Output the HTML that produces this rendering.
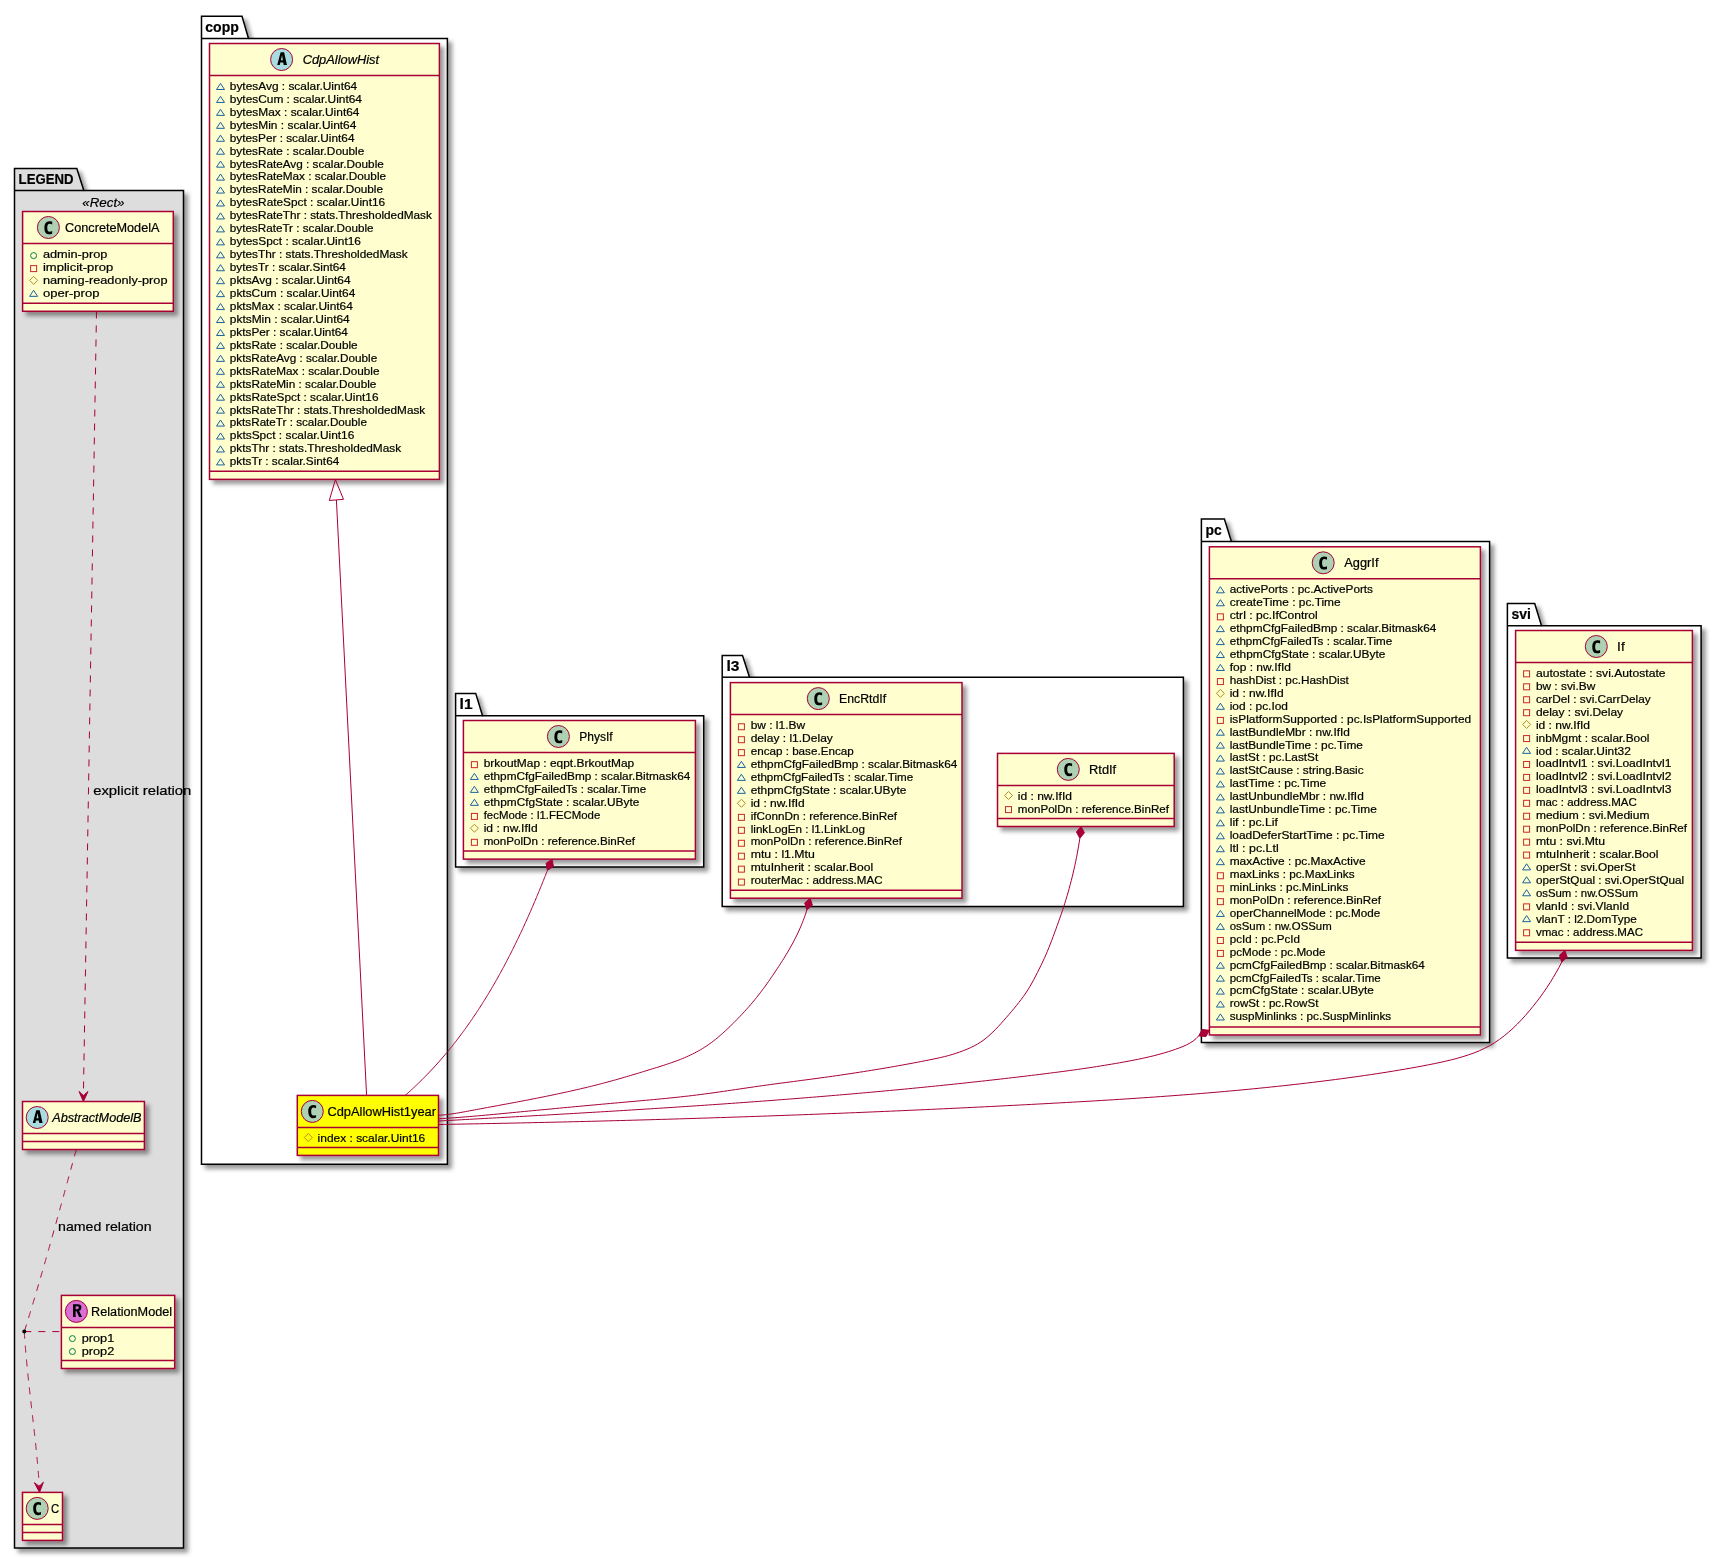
<!DOCTYPE html><html><head><meta charset="utf-8"><style>html,body{margin:0;padding:0;background:#fff;}svg{display:block;will-change:transform;} text{font-family:"Liberation Sans",sans-serif;stroke:#000;stroke-width:0.2px;}</style></head><body><svg width="1722" height="1559" viewBox="0 0 1722 1559" font-family="Liberation Sans, sans-serif">
<defs><filter id="sh" x="-10%" y="-10%" width="130%" height="130%" filterUnits="objectBoundingBox"><feGaussianBlur in="SourceAlpha" stdDeviation="2"/><feColorMatrix type="matrix" values="0 0 0 0 0  0 0 0 0 0  0 0 0 0 0  0 0 0 .4 0"/><feOffset dx="4" dy="4" result="s"/><feMerge><feMergeNode in="s"/><feMergeNode in="SourceGraphic"/></feMerge></filter></defs>
<rect x="0" y="0" width="1722" height="1559" fill="#FFFFFF"/>
<polygon points="14.50,168.50 76.80,168.50 83.80,190.50 183.50,190.50 183.50,1548.00 14.50,1548.00 14.50,168.50" fill="#DDDDDD" stroke="#000000" stroke-width="1.5" filter="url(#sh)"/>
<line x1="14.50" y1="190.50" x2="83.80" y2="190.50" stroke="#000000" stroke-width="1.5"/>
<text x="18.60" y="184.40" font-size="14" textLength="54.80" lengthAdjust="spacingAndGlyphs" font-weight="bold">LEGEND</text>
<text x="82.30" y="206.50" font-size="12.5" textLength="42.20" lengthAdjust="spacingAndGlyphs" font-style="italic">«Rect»</text>
<polygon points="201.50,16.30 242.00,16.30 248.50,38.50 447.40,38.50 447.40,1164.30 201.50,1164.30 201.50,16.30" fill="#FFFFFF" stroke="#000000" stroke-width="1.5" filter="url(#sh)"/>
<line x1="201.50" y1="38.50" x2="248.50" y2="38.50" stroke="#000000" stroke-width="1.5"/>
<text x="205.30" y="31.80" font-size="14" textLength="33.60" lengthAdjust="spacingAndGlyphs" font-weight="bold">copp</text>
<polygon points="455.60,693.40 475.70,693.40 482.50,715.70 703.70,715.70 703.70,867.00 455.60,867.00 455.60,693.40" fill="#FFFFFF" stroke="#000000" stroke-width="1.5" filter="url(#sh)"/>
<line x1="455.60" y1="715.70" x2="482.50" y2="715.70" stroke="#000000" stroke-width="1.5"/>
<text x="459.60" y="709.00" font-size="14" textLength="13.00" lengthAdjust="spacingAndGlyphs" font-weight="bold">l1</text>
<polygon points="722.20,655.40 742.50,655.40 749.50,677.20 1183.40,677.20 1183.40,906.40 722.20,906.40 722.20,655.40" fill="#FFFFFF" stroke="#000000" stroke-width="1.5" filter="url(#sh)"/>
<line x1="722.20" y1="677.20" x2="749.50" y2="677.20" stroke="#000000" stroke-width="1.5"/>
<text x="726.50" y="670.90" font-size="14" textLength="13.00" lengthAdjust="spacingAndGlyphs" font-weight="bold">l3</text>
<polygon points="1201.40,519.00 1224.40,519.00 1231.40,541.50 1489.60,541.50 1489.60,1042.50 1201.40,1042.50 1201.40,519.00" fill="#FFFFFF" stroke="#000000" stroke-width="1.5" filter="url(#sh)"/>
<line x1="1201.40" y1="541.50" x2="1231.40" y2="541.50" stroke="#000000" stroke-width="1.5"/>
<text x="1205.60" y="535.30" font-size="14" textLength="16.20" lengthAdjust="spacingAndGlyphs" font-weight="bold">pc</text>
<polygon points="1507.40,603.60 1534.70,603.60 1541.50,625.80 1701.10,625.80 1701.10,958.10 1507.40,958.10 1507.40,603.60" fill="#FFFFFF" stroke="#000000" stroke-width="1.5" filter="url(#sh)"/>
<line x1="1507.40" y1="625.80" x2="1541.50" y2="625.80" stroke="#000000" stroke-width="1.5"/>
<text x="1511.60" y="618.90" font-size="14" textLength="19.40" lengthAdjust="spacingAndGlyphs" font-weight="bold">svi</text>
<rect x="22.60" y="211.50" width="150.70" height="99.78" fill="#FEFECE" stroke="#A80036" stroke-width="1.5" filter="url(#sh)"/>
<circle cx="48.40" cy="227.50" r="11" fill="#ADD1B2" stroke="#A80036" stroke-width="1"/>
<path transform="translate(48.40,227.50)" d="M3.8,6.2 Q2.5,6.75 0.6,6.75 Q-4.05,6.75 -4.05,0.2 Q-4.05,-6.35 0.9,-6.35 Q2.5,-6.35 3.8,-5.9 L3.8,-3.05 Q2.6,-3.85 1.1,-3.85 Q-1.15,-3.85 -1.15,0.2 Q-1.15,4.15 1.1,4.15 Q2.6,4.15 3.8,3.55 Z" fill="#000000"/>
<text x="65.10" y="232.10" font-size="12" textLength="94.40" lengthAdjust="spacingAndGlyphs">ConcreteModelA</text>
<line x1="22.60" y1="243.50" x2="173.30" y2="243.50" stroke="#A80036" stroke-width="1.5"/>
<circle cx="33.60" cy="255.60" r="3" fill="none" stroke="#038048" stroke-width="1"/>
<text x="42.90" y="257.85" font-size="11" textLength="64.50" lengthAdjust="spacingAndGlyphs">admin-prop</text>
<rect x="30.60" y="265.60" width="6" height="6" fill="none" stroke="#C82930" stroke-width="1"/>
<text x="42.90" y="270.80" font-size="11" textLength="70.30" lengthAdjust="spacingAndGlyphs">implicit-prop</text>
<polygon points="33.60,276.39 37.60,280.39 33.60,284.39 29.60,280.39" fill="none" stroke="#B38D22" stroke-width="1"/>
<text x="42.90" y="283.74" font-size="11" textLength="124.60" lengthAdjust="spacingAndGlyphs">naming-readonly-prop</text>
<polygon points="33.60,290.24 37.60,296.34 29.60,296.34" fill="none" stroke="#1963A0" stroke-width="1"/>
<text x="42.90" y="296.69" font-size="11" textLength="56.50" lengthAdjust="spacingAndGlyphs">oper-prop</text>
<line x1="22.60" y1="303.28" x2="173.30" y2="303.28" stroke="#A80036" stroke-width="1.5"/>
<rect x="22.50" y="1101.50" width="121.90" height="48.00" fill="#FEFECE" stroke="#A80036" stroke-width="1.5" filter="url(#sh)"/>
<circle cx="37.20" cy="1117.50" r="11" fill="#A9DCDF" stroke="#A80036" stroke-width="1"/>
<path transform="translate(37.20,1117.50)" d="M-4.4,5.5 L-1.8,5.5 L-1.3,3.0 L1.6,3.0 L2.1,5.5 L5.4,5.5 L2.5,-7.2 L-1.0,-7.2 Z M0.45,-4.3 L1.3,0.75 L-0.75,0.75 Z" fill="#000000" fill-rule="evenodd"/>
<text x="52.20" y="1122.10" font-size="12" textLength="89.30" lengthAdjust="spacingAndGlyphs" font-style="italic">AbstractModelB</text>
<line x1="22.50" y1="1133.50" x2="144.40" y2="1133.50" stroke="#A80036" stroke-width="1.5"/>
<line x1="22.50" y1="1141.50" x2="144.40" y2="1141.50" stroke="#A80036" stroke-width="1.5"/>
<rect x="61.40" y="1295.40" width="113.30" height="73.09" fill="#FEFECE" stroke="#A80036" stroke-width="1.5" filter="url(#sh)"/>
<circle cx="76.40" cy="1311.40" r="11" fill="#DA70D6" stroke="#A80036" stroke-width="1"/>
<path transform="translate(76.40,1311.40)" d="M-3.4,-7.2 L1.3,-7.2 Q5.0,-7.2 5.0,-3.9 Q5.0,-1.4 2.7,-0.6 L5.6,5.5 L2.7,5.5 L0.2,-0.1 L-0.8,-0.1 L-0.8,5.5 L-3.4,5.5 Z M-0.8,-5.1 L0.9,-5.1 Q2.4,-5.1 2.4,-3.65 Q2.4,-2.2 0.9,-2.2 L-0.8,-2.2 Z" fill="#000000" fill-rule="evenodd"/>
<text x="91.10" y="1316.00" font-size="12" textLength="81.00" lengthAdjust="spacingAndGlyphs">RelationModel</text>
<line x1="61.40" y1="1327.40" x2="174.70" y2="1327.40" stroke="#A80036" stroke-width="1.5"/>
<circle cx="72.40" cy="1338.60" r="3" fill="none" stroke="#038048" stroke-width="1"/>
<text x="81.70" y="1341.75" font-size="11" textLength="32.60" lengthAdjust="spacingAndGlyphs">prop1</text>
<circle cx="72.40" cy="1351.55" r="3" fill="none" stroke="#038048" stroke-width="1"/>
<text x="81.70" y="1354.70" font-size="11" textLength="32.60" lengthAdjust="spacingAndGlyphs">prop2</text>
<line x1="61.40" y1="1360.49" x2="174.70" y2="1360.49" stroke="#A80036" stroke-width="1.5"/>
<rect x="22.50" y="1492.40" width="40.00" height="48.00" fill="#FEFECE" stroke="#A80036" stroke-width="1.5" filter="url(#sh)"/>
<circle cx="37.20" cy="1508.40" r="11" fill="#ADD1B2" stroke="#A80036" stroke-width="1"/>
<path transform="translate(37.20,1508.40)" d="M3.8,6.2 Q2.5,6.75 0.6,6.75 Q-4.05,6.75 -4.05,0.2 Q-4.05,-6.35 0.9,-6.35 Q2.5,-6.35 3.8,-5.9 L3.8,-3.05 Q2.6,-3.85 1.1,-3.85 Q-1.15,-3.85 -1.15,0.2 Q-1.15,4.15 1.1,4.15 Q2.6,4.15 3.8,3.55 Z" fill="#000000"/>
<text x="50.90" y="1513.00" font-size="12" textLength="8.20" lengthAdjust="spacingAndGlyphs">C</text>
<line x1="22.50" y1="1524.40" x2="62.50" y2="1524.40" stroke="#A80036" stroke-width="1.5"/>
<line x1="22.50" y1="1532.40" x2="62.50" y2="1532.40" stroke="#A80036" stroke-width="1.5"/>
<rect x="209.50" y="43.50" width="229.90" height="435.87" fill="#FEFECE" stroke="#A80036" stroke-width="1.5" filter="url(#sh)"/>
<circle cx="281.60" cy="59.50" r="11" fill="#A9DCDF" stroke="#A80036" stroke-width="1"/>
<path transform="translate(281.60,59.50)" d="M-4.4,5.5 L-1.8,5.5 L-1.3,3.0 L1.6,3.0 L2.1,5.5 L5.4,5.5 L2.5,-7.2 L-1.0,-7.2 Z M0.45,-4.3 L1.3,0.75 L-0.75,0.75 Z" fill="#000000" fill-rule="evenodd"/>
<text x="302.70" y="64.10" font-size="12" textLength="76.40" lengthAdjust="spacingAndGlyphs" font-style="italic">CdpAllowHist</text>
<line x1="209.50" y1="75.50" x2="439.40" y2="75.50" stroke="#A80036" stroke-width="1.5"/>
<polygon points="220.50,83.40 224.50,89.50 216.50,89.50" fill="none" stroke="#1963A0" stroke-width="1"/>
<text x="229.80" y="89.85" font-size="11" textLength="127.37" lengthAdjust="spacingAndGlyphs">bytesAvg : scalar.Uint64</text>
<polygon points="220.50,96.35 224.50,102.45 216.50,102.45" fill="none" stroke="#1963A0" stroke-width="1"/>
<text x="229.80" y="102.80" font-size="11" textLength="132.15" lengthAdjust="spacingAndGlyphs">bytesCum : scalar.Uint64</text>
<polygon points="220.50,109.29 224.50,115.39 216.50,115.39" fill="none" stroke="#1963A0" stroke-width="1"/>
<text x="229.80" y="115.74" font-size="11" textLength="129.64" lengthAdjust="spacingAndGlyphs">bytesMax : scalar.Uint64</text>
<polygon points="220.50,122.24 224.50,128.34 216.50,128.34" fill="none" stroke="#1963A0" stroke-width="1"/>
<text x="229.80" y="128.69" font-size="11" textLength="126.55" lengthAdjust="spacingAndGlyphs">bytesMin : scalar.Uint64</text>
<polygon points="220.50,135.18 224.50,141.28 216.50,141.28" fill="none" stroke="#1963A0" stroke-width="1"/>
<text x="229.80" y="141.63" font-size="11" textLength="124.65" lengthAdjust="spacingAndGlyphs">bytesPer : scalar.Uint64</text>
<polygon points="220.50,148.13 224.50,154.23 216.50,154.23" fill="none" stroke="#1963A0" stroke-width="1"/>
<text x="229.80" y="154.58" font-size="11" textLength="134.49" lengthAdjust="spacingAndGlyphs">bytesRate : scalar.Double</text>
<polygon points="220.50,161.07 224.50,167.17 216.50,167.17" fill="none" stroke="#1963A0" stroke-width="1"/>
<text x="229.80" y="167.52" font-size="11" textLength="153.99" lengthAdjust="spacingAndGlyphs">bytesRateAvg : scalar.Double</text>
<polygon points="220.50,174.02 224.50,180.12 216.50,180.12" fill="none" stroke="#1963A0" stroke-width="1"/>
<text x="229.80" y="180.47" font-size="11" textLength="156.25" lengthAdjust="spacingAndGlyphs">bytesRateMax : scalar.Double</text>
<polygon points="220.50,186.97 224.50,193.07 216.50,193.07" fill="none" stroke="#1963A0" stroke-width="1"/>
<text x="229.80" y="193.42" font-size="11" textLength="153.17" lengthAdjust="spacingAndGlyphs">bytesRateMin : scalar.Double</text>
<polygon points="220.50,199.91 224.50,206.01 216.50,206.01" fill="none" stroke="#1963A0" stroke-width="1"/>
<text x="229.80" y="206.36" font-size="11" textLength="155.29" lengthAdjust="spacingAndGlyphs">bytesRateSpct : scalar.Uint16</text>
<polygon points="220.50,212.86 224.50,218.96 216.50,218.96" fill="none" stroke="#1963A0" stroke-width="1"/>
<text x="229.80" y="219.31" font-size="11" textLength="201.99" lengthAdjust="spacingAndGlyphs">bytesRateThr : stats.ThresholdedMask</text>
<polygon points="220.50,225.80 224.50,231.90 216.50,231.90" fill="none" stroke="#1963A0" stroke-width="1"/>
<text x="229.80" y="232.25" font-size="11" textLength="143.70" lengthAdjust="spacingAndGlyphs">bytesRateTr : scalar.Double</text>
<polygon points="220.50,238.75 224.50,244.85 216.50,244.85" fill="none" stroke="#1963A0" stroke-width="1"/>
<text x="229.80" y="245.20" font-size="11" textLength="131.16" lengthAdjust="spacingAndGlyphs">bytesSpct : scalar.Uint16</text>
<polygon points="220.50,251.70 224.50,257.80 216.50,257.80" fill="none" stroke="#1963A0" stroke-width="1"/>
<text x="229.80" y="258.15" font-size="11" textLength="177.85" lengthAdjust="spacingAndGlyphs">bytesThr : stats.ThresholdedMask</text>
<polygon points="220.50,264.64 224.50,270.74 216.50,270.74" fill="none" stroke="#1963A0" stroke-width="1"/>
<text x="229.80" y="271.09" font-size="11" textLength="116.06" lengthAdjust="spacingAndGlyphs">bytesTr : scalar.Sint64</text>
<polygon points="220.50,277.59 224.50,283.69 216.50,283.69" fill="none" stroke="#1963A0" stroke-width="1"/>
<text x="229.80" y="284.04" font-size="11" textLength="120.76" lengthAdjust="spacingAndGlyphs">pktsAvg : scalar.Uint64</text>
<polygon points="220.50,290.53 224.50,296.63 216.50,296.63" fill="none" stroke="#1963A0" stroke-width="1"/>
<text x="229.80" y="296.98" font-size="11" textLength="125.54" lengthAdjust="spacingAndGlyphs">pktsCum : scalar.Uint64</text>
<polygon points="220.50,303.48 224.50,309.58 216.50,309.58" fill="none" stroke="#1963A0" stroke-width="1"/>
<text x="229.80" y="309.93" font-size="11" textLength="123.03" lengthAdjust="spacingAndGlyphs">pktsMax : scalar.Uint64</text>
<polygon points="220.50,316.42 224.50,322.52 216.50,322.52" fill="none" stroke="#1963A0" stroke-width="1"/>
<text x="229.80" y="322.87" font-size="11" textLength="119.94" lengthAdjust="spacingAndGlyphs">pktsMin : scalar.Uint64</text>
<polygon points="220.50,329.37 224.50,335.47 216.50,335.47" fill="none" stroke="#1963A0" stroke-width="1"/>
<text x="229.80" y="335.82" font-size="11" textLength="118.04" lengthAdjust="spacingAndGlyphs">pktsPer : scalar.Uint64</text>
<polygon points="220.50,342.32 224.50,348.42 216.50,348.42" fill="none" stroke="#1963A0" stroke-width="1"/>
<text x="229.80" y="348.77" font-size="11" textLength="127.88" lengthAdjust="spacingAndGlyphs">pktsRate : scalar.Double</text>
<polygon points="220.50,355.26 224.50,361.36 216.50,361.36" fill="none" stroke="#1963A0" stroke-width="1"/>
<text x="229.80" y="361.71" font-size="11" textLength="147.38" lengthAdjust="spacingAndGlyphs">pktsRateAvg : scalar.Double</text>
<polygon points="220.50,368.21 224.50,374.31 216.50,374.31" fill="none" stroke="#1963A0" stroke-width="1"/>
<text x="229.80" y="374.66" font-size="11" textLength="149.64" lengthAdjust="spacingAndGlyphs">pktsRateMax : scalar.Double</text>
<polygon points="220.50,381.15 224.50,387.25 216.50,387.25" fill="none" stroke="#1963A0" stroke-width="1"/>
<text x="229.80" y="387.60" font-size="11" textLength="146.56" lengthAdjust="spacingAndGlyphs">pktsRateMin : scalar.Double</text>
<polygon points="220.50,394.10 224.50,400.20 216.50,400.20" fill="none" stroke="#1963A0" stroke-width="1"/>
<text x="229.80" y="400.55" font-size="11" textLength="148.68" lengthAdjust="spacingAndGlyphs">pktsRateSpct : scalar.Uint16</text>
<polygon points="220.50,407.04 224.50,413.14 216.50,413.14" fill="none" stroke="#1963A0" stroke-width="1"/>
<text x="229.80" y="413.50" font-size="11" textLength="195.38" lengthAdjust="spacingAndGlyphs">pktsRateThr : stats.ThresholdedMask</text>
<polygon points="220.50,419.99 224.50,426.09 216.50,426.09" fill="none" stroke="#1963A0" stroke-width="1"/>
<text x="229.80" y="426.44" font-size="11" textLength="137.09" lengthAdjust="spacingAndGlyphs">pktsRateTr : scalar.Double</text>
<polygon points="220.50,432.94 224.50,439.04 216.50,439.04" fill="none" stroke="#1963A0" stroke-width="1"/>
<text x="229.80" y="439.39" font-size="11" textLength="124.54" lengthAdjust="spacingAndGlyphs">pktsSpct : scalar.Uint16</text>
<polygon points="220.50,445.88 224.50,451.98 216.50,451.98" fill="none" stroke="#1963A0" stroke-width="1"/>
<text x="229.80" y="452.33" font-size="11" textLength="171.24" lengthAdjust="spacingAndGlyphs">pktsThr : stats.ThresholdedMask</text>
<polygon points="220.50,458.83 224.50,464.93 216.50,464.93" fill="none" stroke="#1963A0" stroke-width="1"/>
<text x="229.80" y="465.28" font-size="11" textLength="109.45" lengthAdjust="spacingAndGlyphs">pktsTr : scalar.Sint64</text>
<line x1="209.50" y1="471.37" x2="439.40" y2="471.37" stroke="#A80036" stroke-width="1.5"/>
<rect x="297.30" y="1095.40" width="141.20" height="60.00" fill="#FFFF00" stroke="#A80036" stroke-width="1.5" filter="url(#sh)"/>
<circle cx="312.30" cy="1111.40" r="11" fill="#ADD1B2" stroke="#A80036" stroke-width="1"/>
<path transform="translate(312.30,1111.40)" d="M3.8,6.2 Q2.5,6.75 0.6,6.75 Q-4.05,6.75 -4.05,0.2 Q-4.05,-6.35 0.9,-6.35 Q2.5,-6.35 3.8,-5.9 L3.8,-3.05 Q2.6,-3.85 1.1,-3.85 Q-1.15,-3.85 -1.15,0.2 Q-1.15,4.15 1.1,4.15 Q2.6,4.15 3.8,3.55 Z" fill="#000000"/>
<text x="327.40" y="1116.00" font-size="12" textLength="108.60" lengthAdjust="spacingAndGlyphs">CdpAllowHist1year</text>
<line x1="297.30" y1="1127.40" x2="438.50" y2="1127.40" stroke="#A80036" stroke-width="1.5"/>
<polygon points="308.30,1133.50 312.30,1137.50 308.30,1141.50 304.30,1137.50" fill="none" stroke="#B38D22" stroke-width="1"/>
<text x="317.60" y="1141.75" font-size="11" textLength="107.67" lengthAdjust="spacingAndGlyphs">index : scalar.Uint16</text>
<line x1="297.30" y1="1147.40" x2="438.50" y2="1147.40" stroke="#A80036" stroke-width="1.5"/>
<rect x="463.40" y="720.50" width="232.00" height="138.62" fill="#FEFECE" stroke="#A80036" stroke-width="1.5" filter="url(#sh)"/>
<circle cx="558.40" cy="736.50" r="11" fill="#ADD1B2" stroke="#A80036" stroke-width="1"/>
<path transform="translate(558.40,736.50)" d="M3.8,6.2 Q2.5,6.75 0.6,6.75 Q-4.05,6.75 -4.05,0.2 Q-4.05,-6.35 0.9,-6.35 Q2.5,-6.35 3.8,-5.9 L3.8,-3.05 Q2.6,-3.85 1.1,-3.85 Q-1.15,-3.85 -1.15,0.2 Q-1.15,4.15 1.1,4.15 Q2.6,4.15 3.8,3.55 Z" fill="#000000"/>
<text x="579.30" y="741.10" font-size="12" textLength="33.40" lengthAdjust="spacingAndGlyphs">PhysIf</text>
<line x1="463.40" y1="752.50" x2="695.40" y2="752.50" stroke="#A80036" stroke-width="1.5"/>
<rect x="471.40" y="761.65" width="6" height="6" fill="none" stroke="#C82930" stroke-width="1"/>
<text x="483.70" y="766.85" font-size="11" textLength="150.47" lengthAdjust="spacingAndGlyphs">brkoutMap : eqpt.BrkoutMap</text>
<polygon points="474.40,773.35 478.40,779.45 470.40,779.45" fill="none" stroke="#1963A0" stroke-width="1"/>
<text x="483.70" y="779.80" font-size="11" textLength="206.66" lengthAdjust="spacingAndGlyphs">ethpmCfgFailedBmp : scalar.Bitmask64</text>
<polygon points="474.40,786.29 478.40,792.39 470.40,792.39" fill="none" stroke="#1963A0" stroke-width="1"/>
<text x="483.70" y="792.74" font-size="11" textLength="162.49" lengthAdjust="spacingAndGlyphs">ethpmCfgFailedTs : scalar.Time</text>
<polygon points="474.40,799.24 478.40,805.34 470.40,805.34" fill="none" stroke="#1963A0" stroke-width="1"/>
<text x="483.70" y="805.69" font-size="11" textLength="155.63" lengthAdjust="spacingAndGlyphs">ethpmCfgState : scalar.UByte</text>
<rect x="471.40" y="813.43" width="6" height="6" fill="none" stroke="#C82930" stroke-width="1"/>
<text x="483.70" y="818.63" font-size="11" textLength="116.60" lengthAdjust="spacingAndGlyphs">fecMode : l1.FECMode</text>
<polygon points="474.40,824.23 478.40,828.23 474.40,832.23 470.40,828.23" fill="none" stroke="#B38D22" stroke-width="1"/>
<text x="483.70" y="831.58" font-size="11" textLength="54.11" lengthAdjust="spacingAndGlyphs">id : nw.IfId</text>
<rect x="471.40" y="839.32" width="6" height="6" fill="none" stroke="#C82930" stroke-width="1"/>
<text x="483.70" y="844.52" font-size="11" textLength="151.18" lengthAdjust="spacingAndGlyphs">monPolDn : reference.BinRef</text>
<line x1="463.40" y1="851.12" x2="695.40" y2="851.12" stroke="#A80036" stroke-width="1.5"/>
<rect x="730.40" y="682.60" width="231.60" height="215.60" fill="#FEFECE" stroke="#A80036" stroke-width="1.5" filter="url(#sh)"/>
<circle cx="818.30" cy="698.60" r="11" fill="#ADD1B2" stroke="#A80036" stroke-width="1"/>
<path transform="translate(818.30,698.60)" d="M3.8,6.2 Q2.5,6.75 0.6,6.75 Q-4.05,6.75 -4.05,0.2 Q-4.05,-6.35 0.9,-6.35 Q2.5,-6.35 3.8,-5.9 L3.8,-3.05 Q2.6,-3.85 1.1,-3.85 Q-1.15,-3.85 -1.15,0.2 Q-1.15,4.15 1.1,4.15 Q2.6,4.15 3.8,3.55 Z" fill="#000000"/>
<text x="839.00" y="703.20" font-size="12" textLength="47.20" lengthAdjust="spacingAndGlyphs">EncRtdIf</text>
<line x1="730.40" y1="714.60" x2="962.00" y2="714.60" stroke="#A80036" stroke-width="1.5"/>
<rect x="738.40" y="723.75" width="6" height="6" fill="none" stroke="#C82930" stroke-width="1"/>
<text x="750.70" y="728.95" font-size="11" textLength="54.33" lengthAdjust="spacingAndGlyphs">bw : l1.Bw</text>
<rect x="738.40" y="736.70" width="6" height="6" fill="none" stroke="#C82930" stroke-width="1"/>
<text x="750.70" y="741.90" font-size="11" textLength="82.16" lengthAdjust="spacingAndGlyphs">delay : l1.Delay</text>
<rect x="738.40" y="749.64" width="6" height="6" fill="none" stroke="#C82930" stroke-width="1"/>
<text x="750.70" y="754.84" font-size="11" textLength="103.00" lengthAdjust="spacingAndGlyphs">encap : base.Encap</text>
<polygon points="741.40,761.34 745.40,767.44 737.40,767.44" fill="none" stroke="#1963A0" stroke-width="1"/>
<text x="750.70" y="767.79" font-size="11" textLength="206.66" lengthAdjust="spacingAndGlyphs">ethpmCfgFailedBmp : scalar.Bitmask64</text>
<polygon points="741.40,774.28 745.40,780.38 737.40,780.38" fill="none" stroke="#1963A0" stroke-width="1"/>
<text x="750.70" y="780.73" font-size="11" textLength="162.49" lengthAdjust="spacingAndGlyphs">ethpmCfgFailedTs : scalar.Time</text>
<polygon points="741.40,787.23 745.40,793.33 737.40,793.33" fill="none" stroke="#1963A0" stroke-width="1"/>
<text x="750.70" y="793.68" font-size="11" textLength="155.63" lengthAdjust="spacingAndGlyphs">ethpmCfgState : scalar.UByte</text>
<polygon points="741.40,799.27 745.40,803.27 741.40,807.27 737.40,803.27" fill="none" stroke="#B38D22" stroke-width="1"/>
<text x="750.70" y="806.62" font-size="11" textLength="54.11" lengthAdjust="spacingAndGlyphs">id : nw.IfId</text>
<rect x="738.40" y="814.37" width="6" height="6" fill="none" stroke="#C82930" stroke-width="1"/>
<text x="750.70" y="819.57" font-size="11" textLength="146.24" lengthAdjust="spacingAndGlyphs">ifConnDn : reference.BinRef</text>
<rect x="738.40" y="827.32" width="6" height="6" fill="none" stroke="#C82930" stroke-width="1"/>
<text x="750.70" y="832.52" font-size="11" textLength="114.31" lengthAdjust="spacingAndGlyphs">linkLogEn : l1.LinkLog</text>
<rect x="738.40" y="840.26" width="6" height="6" fill="none" stroke="#C82930" stroke-width="1"/>
<text x="750.70" y="845.46" font-size="11" textLength="151.18" lengthAdjust="spacingAndGlyphs">monPolDn : reference.BinRef</text>
<rect x="738.40" y="853.21" width="6" height="6" fill="none" stroke="#C82930" stroke-width="1"/>
<text x="750.70" y="858.41" font-size="11" textLength="64.15" lengthAdjust="spacingAndGlyphs">mtu : l1.Mtu</text>
<rect x="738.40" y="866.15" width="6" height="6" fill="none" stroke="#C82930" stroke-width="1"/>
<text x="750.70" y="871.35" font-size="11" textLength="122.44" lengthAdjust="spacingAndGlyphs">mtuInherit : scalar.Bool</text>
<rect x="738.40" y="879.10" width="6" height="6" fill="none" stroke="#C82930" stroke-width="1"/>
<text x="750.70" y="884.30" font-size="11" textLength="131.86" lengthAdjust="spacingAndGlyphs">routerMac : address.MAC</text>
<line x1="730.40" y1="890.20" x2="962.00" y2="890.20" stroke="#A80036" stroke-width="1.5"/>
<rect x="997.50" y="753.40" width="176.70" height="73.09" fill="#FEFECE" stroke="#A80036" stroke-width="1.5" filter="url(#sh)"/>
<circle cx="1068.30" cy="769.40" r="11" fill="#ADD1B2" stroke="#A80036" stroke-width="1"/>
<path transform="translate(1068.30,769.40)" d="M3.8,6.2 Q2.5,6.75 0.6,6.75 Q-4.05,6.75 -4.05,0.2 Q-4.05,-6.35 0.9,-6.35 Q2.5,-6.35 3.8,-5.9 L3.8,-3.05 Q2.6,-3.85 1.1,-3.85 Q-1.15,-3.85 -1.15,0.2 Q-1.15,4.15 1.1,4.15 Q2.6,4.15 3.8,3.55 Z" fill="#000000"/>
<text x="1089.00" y="774.00" font-size="12" textLength="27.20" lengthAdjust="spacingAndGlyphs">RtdIf</text>
<line x1="997.50" y1="785.40" x2="1174.20" y2="785.40" stroke="#A80036" stroke-width="1.5"/>
<polygon points="1008.50,791.50 1012.50,795.50 1008.50,799.50 1004.50,795.50" fill="none" stroke="#B38D22" stroke-width="1"/>
<text x="1017.80" y="799.75" font-size="11" textLength="54.11" lengthAdjust="spacingAndGlyphs">id : nw.IfId</text>
<rect x="1005.50" y="806.60" width="6" height="6" fill="none" stroke="#C82930" stroke-width="1"/>
<text x="1017.80" y="812.70" font-size="11" textLength="151.18" lengthAdjust="spacingAndGlyphs">monPolDn : reference.BinRef</text>
<line x1="997.50" y1="818.49" x2="1174.20" y2="818.49" stroke="#A80036" stroke-width="1.5"/>
<rect x="1209.40" y="546.80" width="271.00" height="488.16" fill="#FEFECE" stroke="#A80036" stroke-width="1.5" filter="url(#sh)"/>
<circle cx="1323.20" cy="562.80" r="11" fill="#ADD1B2" stroke="#A80036" stroke-width="1"/>
<path transform="translate(1323.20,562.80)" d="M3.8,6.2 Q2.5,6.75 0.6,6.75 Q-4.05,6.75 -4.05,0.2 Q-4.05,-6.35 0.9,-6.35 Q2.5,-6.35 3.8,-5.9 L3.8,-3.05 Q2.6,-3.85 1.1,-3.85 Q-1.15,-3.85 -1.15,0.2 Q-1.15,4.15 1.1,4.15 Q2.6,4.15 3.8,3.55 Z" fill="#000000"/>
<text x="1344.30" y="567.40" font-size="12" textLength="34.20" lengthAdjust="spacingAndGlyphs">AggrIf</text>
<line x1="1209.40" y1="578.80" x2="1480.40" y2="578.80" stroke="#A80036" stroke-width="1.5"/>
<polygon points="1220.40,586.70 1224.40,592.80 1216.40,592.80" fill="none" stroke="#1963A0" stroke-width="1"/>
<text x="1229.70" y="593.15" font-size="11" textLength="143.33" lengthAdjust="spacingAndGlyphs">activePorts : pc.ActivePorts</text>
<polygon points="1220.40,599.65 1224.40,605.75 1216.40,605.75" fill="none" stroke="#1963A0" stroke-width="1"/>
<text x="1229.70" y="606.10" font-size="11" textLength="111.00" lengthAdjust="spacingAndGlyphs">createTime : pc.Time</text>
<rect x="1217.40" y="613.84" width="6" height="6" fill="none" stroke="#C82930" stroke-width="1"/>
<text x="1229.70" y="619.04" font-size="11" textLength="88.09" lengthAdjust="spacingAndGlyphs">ctrl : pc.IfControl</text>
<polygon points="1220.40,625.54 1224.40,631.64 1216.40,631.64" fill="none" stroke="#1963A0" stroke-width="1"/>
<text x="1229.70" y="631.99" font-size="11" textLength="206.66" lengthAdjust="spacingAndGlyphs">ethpmCfgFailedBmp : scalar.Bitmask64</text>
<polygon points="1220.40,638.48 1224.40,644.58 1216.40,644.58" fill="none" stroke="#1963A0" stroke-width="1"/>
<text x="1229.70" y="644.93" font-size="11" textLength="162.49" lengthAdjust="spacingAndGlyphs">ethpmCfgFailedTs : scalar.Time</text>
<polygon points="1220.40,651.43 1224.40,657.53 1216.40,657.53" fill="none" stroke="#1963A0" stroke-width="1"/>
<text x="1229.70" y="657.88" font-size="11" textLength="155.63" lengthAdjust="spacingAndGlyphs">ethpmCfgState : scalar.UByte</text>
<polygon points="1220.40,664.37 1224.40,670.47 1216.40,670.47" fill="none" stroke="#1963A0" stroke-width="1"/>
<text x="1229.70" y="670.82" font-size="11" textLength="61.33" lengthAdjust="spacingAndGlyphs">fop : nw.IfId</text>
<rect x="1217.40" y="678.57" width="6" height="6" fill="none" stroke="#C82930" stroke-width="1"/>
<text x="1229.70" y="683.77" font-size="11" textLength="119.15" lengthAdjust="spacingAndGlyphs">hashDist : pc.HashDist</text>
<polygon points="1220.40,689.37 1224.40,693.37 1220.40,697.37 1216.40,693.37" fill="none" stroke="#B38D22" stroke-width="1"/>
<text x="1229.70" y="696.72" font-size="11" textLength="54.11" lengthAdjust="spacingAndGlyphs">id : nw.IfId</text>
<polygon points="1220.40,703.21 1224.40,709.31 1216.40,709.31" fill="none" stroke="#1963A0" stroke-width="1"/>
<text x="1229.70" y="709.66" font-size="11" textLength="58.33" lengthAdjust="spacingAndGlyphs">iod : pc.Iod</text>
<rect x="1217.40" y="717.41" width="6" height="6" fill="none" stroke="#C82930" stroke-width="1"/>
<text x="1229.70" y="722.61" font-size="11" textLength="241.40" lengthAdjust="spacingAndGlyphs">isPlatformSupported : pc.IsPlatformSupported</text>
<polygon points="1220.40,729.10 1224.40,735.20 1216.40,735.20" fill="none" stroke="#1963A0" stroke-width="1"/>
<text x="1229.70" y="735.55" font-size="11" textLength="120.23" lengthAdjust="spacingAndGlyphs">lastBundleMbr : nw.IfId</text>
<polygon points="1220.40,742.05 1224.40,748.15 1216.40,748.15" fill="none" stroke="#1963A0" stroke-width="1"/>
<text x="1229.70" y="748.50" font-size="11" textLength="133.22" lengthAdjust="spacingAndGlyphs">lastBundleTime : pc.Time</text>
<polygon points="1220.40,755.00 1224.40,761.10 1216.40,761.10" fill="none" stroke="#1963A0" stroke-width="1"/>
<text x="1229.70" y="761.45" font-size="11" textLength="88.59" lengthAdjust="spacingAndGlyphs">lastSt : pc.LastSt</text>
<polygon points="1220.40,767.94 1224.40,774.04 1216.40,774.04" fill="none" stroke="#1963A0" stroke-width="1"/>
<text x="1229.70" y="774.39" font-size="11" textLength="133.91" lengthAdjust="spacingAndGlyphs">lastStCause : string.Basic</text>
<polygon points="1220.40,780.89 1224.40,786.99 1216.40,786.99" fill="none" stroke="#1963A0" stroke-width="1"/>
<text x="1229.70" y="787.34" font-size="11" textLength="96.57" lengthAdjust="spacingAndGlyphs">lastTime : pc.Time</text>
<polygon points="1220.40,793.83 1224.40,799.93 1216.40,799.93" fill="none" stroke="#1963A0" stroke-width="1"/>
<text x="1229.70" y="800.28" font-size="11" textLength="134.07" lengthAdjust="spacingAndGlyphs">lastUnbundleMbr : nw.IfId</text>
<polygon points="1220.40,806.78 1224.40,812.88 1216.40,812.88" fill="none" stroke="#1963A0" stroke-width="1"/>
<text x="1229.70" y="813.23" font-size="11" textLength="147.06" lengthAdjust="spacingAndGlyphs">lastUnbundleTime : pc.Time</text>
<polygon points="1220.40,819.72 1224.40,825.82 1216.40,825.82" fill="none" stroke="#1963A0" stroke-width="1"/>
<text x="1229.70" y="826.17" font-size="11" textLength="48.11" lengthAdjust="spacingAndGlyphs">lif : pc.Lif</text>
<polygon points="1220.40,832.67 1224.40,838.77 1216.40,838.77" fill="none" stroke="#1963A0" stroke-width="1"/>
<text x="1229.70" y="839.12" font-size="11" textLength="154.89" lengthAdjust="spacingAndGlyphs">loadDeferStartTime : pc.Time</text>
<polygon points="1220.40,845.62 1224.40,851.72 1216.40,851.72" fill="none" stroke="#1963A0" stroke-width="1"/>
<text x="1229.70" y="852.07" font-size="11" textLength="48.95" lengthAdjust="spacingAndGlyphs">ltl : pc.Ltl</text>
<polygon points="1220.40,858.56 1224.40,864.66 1216.40,864.66" fill="none" stroke="#1963A0" stroke-width="1"/>
<text x="1229.70" y="865.01" font-size="11" textLength="135.88" lengthAdjust="spacingAndGlyphs">maxActive : pc.MaxActive</text>
<rect x="1217.40" y="872.76" width="6" height="6" fill="none" stroke="#C82930" stroke-width="1"/>
<text x="1229.70" y="877.96" font-size="11" textLength="124.84" lengthAdjust="spacingAndGlyphs">maxLinks : pc.MaxLinks</text>
<rect x="1217.40" y="885.70" width="6" height="6" fill="none" stroke="#C82930" stroke-width="1"/>
<text x="1229.70" y="890.90" font-size="11" textLength="118.67" lengthAdjust="spacingAndGlyphs">minLinks : pc.MinLinks</text>
<rect x="1217.40" y="898.65" width="6" height="6" fill="none" stroke="#C82930" stroke-width="1"/>
<text x="1229.70" y="903.85" font-size="11" textLength="151.18" lengthAdjust="spacingAndGlyphs">monPolDn : reference.BinRef</text>
<polygon points="1220.40,910.34 1224.40,916.44 1216.40,916.44" fill="none" stroke="#1963A0" stroke-width="1"/>
<text x="1229.70" y="916.79" font-size="11" textLength="150.57" lengthAdjust="spacingAndGlyphs">operChannelMode : pc.Mode</text>
<polygon points="1220.40,923.29 1224.40,929.39 1216.40,929.39" fill="none" stroke="#1963A0" stroke-width="1"/>
<text x="1229.70" y="929.74" font-size="11" textLength="102.02" lengthAdjust="spacingAndGlyphs">osSum : nw.OSSum</text>
<rect x="1217.40" y="937.49" width="6" height="6" fill="none" stroke="#C82930" stroke-width="1"/>
<text x="1229.70" y="942.69" font-size="11" textLength="70.24" lengthAdjust="spacingAndGlyphs">pcId : pc.PcId</text>
<rect x="1217.40" y="950.43" width="6" height="6" fill="none" stroke="#C82930" stroke-width="1"/>
<text x="1229.70" y="955.63" font-size="11" textLength="95.89" lengthAdjust="spacingAndGlyphs">pcMode : pc.Mode</text>
<polygon points="1220.40,962.13 1224.40,968.23 1216.40,968.23" fill="none" stroke="#1963A0" stroke-width="1"/>
<text x="1229.70" y="968.58" font-size="11" textLength="195.18" lengthAdjust="spacingAndGlyphs">pcmCfgFailedBmp : scalar.Bitmask64</text>
<polygon points="1220.40,975.07 1224.40,981.17 1216.40,981.17" fill="none" stroke="#1963A0" stroke-width="1"/>
<text x="1229.70" y="981.52" font-size="11" textLength="151.00" lengthAdjust="spacingAndGlyphs">pcmCfgFailedTs : scalar.Time</text>
<polygon points="1220.40,988.02 1224.40,994.12 1216.40,994.12" fill="none" stroke="#1963A0" stroke-width="1"/>
<text x="1229.70" y="994.47" font-size="11" textLength="144.14" lengthAdjust="spacingAndGlyphs">pcmCfgState : scalar.UByte</text>
<polygon points="1220.40,1000.97 1224.40,1007.07 1216.40,1007.07" fill="none" stroke="#1963A0" stroke-width="1"/>
<text x="1229.70" y="1007.42" font-size="11" textLength="88.72" lengthAdjust="spacingAndGlyphs">rowSt : pc.RowSt</text>
<polygon points="1220.40,1013.91 1224.40,1020.01 1216.40,1020.01" fill="none" stroke="#1963A0" stroke-width="1"/>
<text x="1229.70" y="1020.36" font-size="11" textLength="161.47" lengthAdjust="spacingAndGlyphs">suspMinlinks : pc.SuspMinlinks</text>
<line x1="1209.40" y1="1026.96" x2="1480.40" y2="1026.96" stroke="#A80036" stroke-width="1.5"/>
<rect x="1515.60" y="630.50" width="176.80" height="319.86" fill="#FEFECE" stroke="#A80036" stroke-width="1.5" filter="url(#sh)"/>
<circle cx="1596.30" cy="646.50" r="11" fill="#ADD1B2" stroke="#A80036" stroke-width="1"/>
<path transform="translate(1596.30,646.50)" d="M3.8,6.2 Q2.5,6.75 0.6,6.75 Q-4.05,6.75 -4.05,0.2 Q-4.05,-6.35 0.9,-6.35 Q2.5,-6.35 3.8,-5.9 L3.8,-3.05 Q2.6,-3.85 1.1,-3.85 Q-1.15,-3.85 -1.15,0.2 Q-1.15,4.15 1.1,4.15 Q2.6,4.15 3.8,3.55 Z" fill="#000000"/>
<text x="1617.10" y="651.10" font-size="12" textLength="7.60" lengthAdjust="spacingAndGlyphs">If</text>
<line x1="1515.60" y1="662.50" x2="1692.40" y2="662.50" stroke="#A80036" stroke-width="1.5"/>
<rect x="1523.60" y="670.85" width="6" height="6" fill="none" stroke="#C82930" stroke-width="1"/>
<text x="1535.90" y="676.85" font-size="11" textLength="129.70" lengthAdjust="spacingAndGlyphs">autostate : svi.Autostate</text>
<rect x="1523.60" y="683.80" width="6" height="6" fill="none" stroke="#C82930" stroke-width="1"/>
<text x="1535.90" y="689.80" font-size="11" textLength="59.35" lengthAdjust="spacingAndGlyphs">bw : svi.Bw</text>
<rect x="1523.60" y="696.74" width="6" height="6" fill="none" stroke="#C82930" stroke-width="1"/>
<text x="1535.90" y="702.74" font-size="11" textLength="114.76" lengthAdjust="spacingAndGlyphs">carDel : svi.CarrDelay</text>
<rect x="1523.60" y="709.69" width="6" height="6" fill="none" stroke="#C82930" stroke-width="1"/>
<text x="1535.90" y="715.69" font-size="11" textLength="87.18" lengthAdjust="spacingAndGlyphs">delay : svi.Delay</text>
<polygon points="1526.60,720.48 1530.60,724.48 1526.60,728.48 1522.60,724.48" fill="none" stroke="#B38D22" stroke-width="1"/>
<text x="1535.90" y="728.63" font-size="11" textLength="54.11" lengthAdjust="spacingAndGlyphs">id : nw.IfId</text>
<rect x="1523.60" y="735.58" width="6" height="6" fill="none" stroke="#C82930" stroke-width="1"/>
<text x="1535.90" y="741.58" font-size="11" textLength="113.50" lengthAdjust="spacingAndGlyphs">inbMgmt : scalar.Bool</text>
<polygon points="1526.60,747.27 1530.60,753.37 1522.60,753.37" fill="none" stroke="#1963A0" stroke-width="1"/>
<text x="1535.90" y="754.52" font-size="11" textLength="94.92" lengthAdjust="spacingAndGlyphs">iod : scalar.Uint32</text>
<rect x="1523.60" y="761.47" width="6" height="6" fill="none" stroke="#C82930" stroke-width="1"/>
<text x="1535.90" y="767.47" font-size="11" textLength="135.49" lengthAdjust="spacingAndGlyphs">loadIntvl1 : svi.LoadIntvl1</text>
<rect x="1523.60" y="774.42" width="6" height="6" fill="none" stroke="#C82930" stroke-width="1"/>
<text x="1535.90" y="780.42" font-size="11" textLength="135.49" lengthAdjust="spacingAndGlyphs">loadIntvl2 : svi.LoadIntvl2</text>
<rect x="1523.60" y="787.36" width="6" height="6" fill="none" stroke="#C82930" stroke-width="1"/>
<text x="1535.90" y="793.36" font-size="11" textLength="135.49" lengthAdjust="spacingAndGlyphs">loadIntvl3 : svi.LoadIntvl3</text>
<rect x="1523.60" y="800.31" width="6" height="6" fill="none" stroke="#C82930" stroke-width="1"/>
<text x="1535.90" y="806.31" font-size="11" textLength="100.89" lengthAdjust="spacingAndGlyphs">mac : address.MAC</text>
<rect x="1523.60" y="813.25" width="6" height="6" fill="none" stroke="#C82930" stroke-width="1"/>
<text x="1535.90" y="819.25" font-size="11" textLength="113.59" lengthAdjust="spacingAndGlyphs">medium : svi.Medium</text>
<rect x="1523.60" y="826.20" width="6" height="6" fill="none" stroke="#C82930" stroke-width="1"/>
<text x="1535.90" y="832.20" font-size="11" textLength="151.18" lengthAdjust="spacingAndGlyphs">monPolDn : reference.BinRef</text>
<rect x="1523.60" y="839.15" width="6" height="6" fill="none" stroke="#C82930" stroke-width="1"/>
<text x="1535.90" y="845.15" font-size="11" textLength="69.16" lengthAdjust="spacingAndGlyphs">mtu : svi.Mtu</text>
<rect x="1523.60" y="852.09" width="6" height="6" fill="none" stroke="#C82930" stroke-width="1"/>
<text x="1535.90" y="858.09" font-size="11" textLength="122.44" lengthAdjust="spacingAndGlyphs">mtuInherit : scalar.Bool</text>
<polygon points="1526.60,863.79 1530.60,869.89 1522.60,869.89" fill="none" stroke="#1963A0" stroke-width="1"/>
<text x="1535.90" y="871.04" font-size="11" textLength="99.55" lengthAdjust="spacingAndGlyphs">operSt : svi.OperSt</text>
<polygon points="1526.60,876.73 1530.60,882.83 1522.60,882.83" fill="none" stroke="#1963A0" stroke-width="1"/>
<text x="1535.90" y="883.98" font-size="11" textLength="148.22" lengthAdjust="spacingAndGlyphs">operStQual : svi.OperStQual</text>
<polygon points="1526.60,889.68 1530.60,895.78 1522.60,895.78" fill="none" stroke="#1963A0" stroke-width="1"/>
<text x="1535.90" y="896.93" font-size="11" textLength="102.02" lengthAdjust="spacingAndGlyphs">osSum : nw.OSSum</text>
<rect x="1523.60" y="903.87" width="6" height="6" fill="none" stroke="#C82930" stroke-width="1"/>
<text x="1535.90" y="909.87" font-size="11" textLength="93.33" lengthAdjust="spacingAndGlyphs">vlanId : svi.VlanId</text>
<polygon points="1526.60,915.57 1530.60,921.67 1522.60,921.67" fill="none" stroke="#1963A0" stroke-width="1"/>
<text x="1535.90" y="922.82" font-size="11" textLength="100.90" lengthAdjust="spacingAndGlyphs">vlanT : l2.DomType</text>
<rect x="1523.60" y="929.77" width="6" height="6" fill="none" stroke="#C82930" stroke-width="1"/>
<text x="1535.90" y="935.77" font-size="11" textLength="107.12" lengthAdjust="spacingAndGlyphs">vmac : address.MAC</text>
<line x1="1515.60" y1="942.36" x2="1692.40" y2="942.36" stroke="#A80036" stroke-width="1.5"/>
<line x1="366.6" y1="1095.4" x2="336.4" y2="500.0" fill="none" stroke="#A80036" stroke-width="1"/>
<polygon points="335.4,479.6 343.5,499.3 329.3,500.5" fill="none" stroke="#A80036" stroke-width="1"/>
<polygon points="552.10,859.30 546.08,863.27 547.43,870.35 553.45,866.38" fill="#A80036" stroke="#A80036" stroke-width="1"/>
<path d="M547.43,870.35 L546.94,871.60 L546.45,872.84 L545.96,874.09 L545.47,875.34 L544.97,876.58 L544.48,877.83 L543.98,879.07 L543.48,880.32 L542.98,881.56 L542.48,882.81 L541.98,884.05 L541.47,885.30 L540.97,886.55 L540.46,887.79 L539.95,889.03 L539.44,890.28 L538.92,891.52 L538.41,892.77 L537.89,894.01 L537.37,895.26 L536.85,896.50 L536.33,897.74 L535.81,898.98 L535.28,900.23 L534.76,901.47 L534.23,902.71 L533.70,903.95 L533.17,905.19 L532.63,906.43 L532.10,907.67 L531.56,908.91 L531.02,910.15 L530.48,911.39 L529.93,912.63 L529.39,913.86 L528.84,915.10 L528.29,916.34 L527.74,917.57 L527.19,918.81 L526.64,920.04 L526.08,921.27 L525.52,922.51 L524.96,923.74 L524.40,924.97 L523.83,926.20 L523.27,927.43 L522.70,928.66 L522.13,929.89 L521.55,931.11 L520.98,932.34 L520.40,933.57 L519.82,934.79 L519.24,936.02 L518.66,937.24 L518.07,938.46 L517.48,939.68 L516.89,940.90 L516.30,942.12 L515.71,943.34 L515.11,944.56 L514.51,945.77 L513.91,946.99 L513.31,948.20 L512.70,949.42 L512.10,950.63 L511.49,951.84 L510.88,953.05 L510.26,954.26 L509.64,955.46 L509.03,956.67 L508.40,957.88 L507.78,959.08 L507.15,960.28 L506.53,961.48 L505.90,962.68 L505.26,963.88 L504.63,965.08 L503.99,966.27 L503.35,967.47 L502.71,968.66 L502.06,969.85 L501.41,971.04 L500.76,972.23 L500.11,973.42 L499.45,974.61 L498.80,975.79 L498.14,976.97 L497.47,978.15 L496.81,979.33 L496.14,980.51 L495.47,981.69 L494.80,982.86 L494.12,984.04 L493.44,985.21 L492.76,986.38 L492.08,987.55 L491.39,988.71 L490.70,989.88 L490.01,991.04 L489.32,992.20 L488.62,993.36 L487.92,994.52 L487.22,995.68 L486.51,996.83 L485.81,997.98 L485.09,999.13 L484.38,1000.28 L483.66,1001.43 L482.95,1002.57 L482.22,1003.72 L481.50,1004.86 L480.77,1006.00 L480.04,1007.13 L479.31,1008.27 L478.57,1009.40 L477.83,1010.53 L477.09,1011.66 L476.35,1012.79 L475.60,1013.91 L474.85,1015.04 L474.09,1016.16 L473.34,1017.27 L472.58,1018.39 L471.82,1019.50 L471.05,1020.61 L470.28,1021.72 L469.51,1022.83 L468.73,1023.94 L467.96,1025.04 L467.18,1026.14 L466.39,1027.24 L465.61,1028.33 L464.82,1029.42 L464.02,1030.52 L463.23,1031.60 L462.43,1032.69 L461.62,1033.77 L460.82,1034.85 L460.01,1035.93 L459.20,1037.01 L458.38,1038.08 L457.56,1039.15 L456.74,1040.22 L455.92,1041.29 L455.09,1042.35 L454.26,1043.41 L453.42,1044.47 L452.58,1045.52 L451.74,1046.58 L450.90,1047.63 L450.05,1048.67 L449.20,1049.72 L448.34,1050.76 L447.49,1051.80 L446.63,1052.84 L445.76,1053.87 L444.89,1054.90 L444.02,1055.93 L443.15,1056.95 L442.27,1057.97 L441.39,1058.99 L440.50,1060.01 L439.61,1061.02 L438.72,1062.03 L437.82,1063.04 L436.92,1064.05 L436.02,1065.05 L435.12,1066.05 L434.21,1067.04 L433.29,1068.03 L432.38,1069.02 L431.45,1070.01 L430.53,1070.99 L429.60,1071.97 L428.67,1072.95 L427.74,1073.92 L426.80,1074.89 L425.86,1075.86 L424.91,1076.82 L423.96,1077.78 L423.01,1078.74 L422.05,1079.70 L421.09,1080.65 L420.12,1081.60 L419.16,1082.54 L418.18,1083.48 L417.21,1084.42 L416.23,1085.35 L415.24,1086.28 L414.26,1087.21 L413.27,1088.13 L412.27,1089.06 L411.27,1089.97 L410.27,1090.89 L409.26,1091.80 L408.25,1092.70 L407.24,1093.60 L406.22,1094.50 L405.20,1095.40" fill="none" stroke="#A80036" stroke-width="1"/>
<polygon points="810.20,898.30 804.69,902.96 806.87,909.83 812.38,905.17" fill="#A80036" stroke="#A80036" stroke-width="1"/>
<path d="M806.87,909.83 L806.20,912.01 L805.50,914.17 L804.76,916.32 L804.00,918.45 L803.20,920.57 L802.38,922.68 L801.53,924.78 L800.65,926.86 L799.74,928.93 L798.81,930.99 L797.86,933.03 L796.88,935.07 L795.88,937.09 L794.85,939.10 L793.81,941.11 L792.75,943.10 L791.67,945.08 L790.57,947.06 L789.45,949.02 L788.31,950.98 L787.16,952.92 L786.00,954.86 L784.82,956.79 L783.63,958.72 L782.43,960.63 L781.22,962.54 L779.99,964.45 L778.76,966.34 L777.52,968.24 L776.27,970.12 L775.02,972.00 L773.75,973.88 L772.49,975.75 L771.21,977.61 L769.93,979.47 L768.64,981.32 L767.34,983.16 L766.03,985.00 L764.71,986.82 L763.37,988.64 L762.03,990.45 L760.67,992.25 L759.30,994.04 L757.91,995.81 L756.51,997.58 L755.09,999.33 L753.66,1001.07 L752.21,1002.80 L750.75,1004.52 L749.27,1006.22 L747.77,1007.92 L746.27,1009.60 L744.75,1011.27 L743.21,1012.94 L741.67,1014.59 L740.11,1016.23 L738.54,1017.87 L736.96,1019.49 L735.37,1021.11 L733.77,1022.72 L732.16,1024.32 L730.54,1025.91 L728.91,1027.49 L727.27,1029.05 L725.62,1030.61 L723.95,1032.14 L722.26,1033.66 L720.56,1035.15 L718.85,1036.63 L717.12,1038.08 L715.37,1039.50 L713.60,1040.89 L711.80,1042.25 L709.99,1043.59 L708.16,1044.88 L706.30,1046.14 L704.42,1047.37 L702.52,1048.55 L700.60,1049.70 L698.65,1050.82 L696.69,1051.90 L694.70,1052.95 L692.70,1053.96 L690.68,1054.94 L688.64,1055.89 L686.58,1056.81 L684.51,1057.70 L682.43,1058.57 L680.33,1059.41 L678.22,1060.22 L676.10,1061.02 L673.97,1061.80 L671.83,1062.55 L669.69,1063.30 L667.53,1064.02 L665.38,1064.74 L663.21,1065.44 L661.05,1066.13 L658.88,1066.82 L656.71,1067.50 L654.54,1068.17 L652.37,1068.84 L650.20,1069.51 L648.03,1070.17 L645.87,1070.84 L643.71,1071.50 L641.54,1072.16 L639.38,1072.82 L637.22,1073.48 L635.06,1074.13 L632.90,1074.78 L630.74,1075.43 L628.58,1076.07 L626.42,1076.71 L624.26,1077.34 L622.10,1077.97 L619.94,1078.59 L617.77,1079.21 L615.61,1079.82 L613.44,1080.43 L611.27,1081.03 L609.10,1081.62 L606.93,1082.21 L604.75,1082.79 L602.57,1083.37 L600.39,1083.93 L598.21,1084.50 L596.02,1085.05 L593.84,1085.60 L591.65,1086.15 L589.46,1086.69 L587.26,1087.22 L585.07,1087.75 L582.87,1088.27 L580.68,1088.79 L578.48,1089.30 L576.28,1089.81 L574.07,1090.31 L571.87,1090.81 L569.66,1091.31 L567.46,1091.80 L565.25,1092.28 L563.04,1092.76 L560.83,1093.24 L558.62,1093.71 L556.41,1094.18 L554.19,1094.65 L551.98,1095.11 L549.76,1095.57 L547.54,1096.03 L545.33,1096.48 L543.11,1096.93 L540.89,1097.37 L538.67,1097.82 L536.45,1098.26 L534.23,1098.69 L532.00,1099.13 L529.78,1099.56 L527.56,1099.99 L525.33,1100.42 L523.11,1100.85 L520.89,1101.28 L518.66,1101.70 L516.44,1102.12 L514.21,1102.54 L511.99,1102.96 L509.77,1103.38 L507.54,1103.79 L505.32,1104.21 L503.09,1104.62 L500.87,1105.03 L498.64,1105.45 L496.42,1105.86 L494.20,1106.27 L491.97,1106.68 L489.75,1107.09 L487.53,1107.51 L485.31,1107.92 L483.09,1108.33 L480.87,1108.74 L478.65,1109.15 L476.43,1109.56 L474.21,1109.98 L471.99,1110.39 L469.78,1110.81 L467.56,1111.22 L465.35,1111.63 L463.13,1112.04 L460.91,1112.44 L458.69,1112.83 L456.47,1113.20 L454.25,1113.56 L452.02,1113.89 L449.78,1114.20 L447.54,1114.49 L445.29,1114.74 L443.04,1114.96 L440.77,1115.15 L438.50,1115.30" fill="none" stroke="#A80036" stroke-width="1"/>
<polygon points="1081.00,826.40 1076.44,831.99 1079.84,838.34 1084.40,832.76" fill="#A80036" stroke="#A80036" stroke-width="1"/>
<path d="M1079.84,838.34 L1079.24,842.22 L1078.59,846.09 L1077.92,849.95 L1077.21,853.81 L1076.46,857.67 L1075.68,861.51 L1074.87,865.35 L1074.02,869.19 L1073.14,873.01 L1072.22,876.83 L1071.27,880.64 L1070.28,884.44 L1069.26,888.23 L1068.20,892.01 L1067.11,895.78 L1065.98,899.54 L1064.81,903.29 L1063.61,907.03 L1062.38,910.75 L1061.11,914.47 L1059.82,918.17 L1058.51,921.87 L1057.18,925.56 L1055.83,929.25 L1054.48,932.93 L1053.12,936.61 L1051.74,940.29 L1050.33,943.95 L1048.89,947.60 L1047.41,951.23 L1045.87,954.84 L1044.29,958.43 L1042.63,961.98 L1040.92,965.52 L1039.18,969.04 L1037.42,972.55 L1035.64,976.06 L1033.81,979.54 L1031.94,982.99 L1029.99,986.39 L1027.95,989.74 L1025.80,993.01 L1023.57,996.22 L1021.25,999.38 L1018.87,1002.48 L1016.44,1005.54 L1013.96,1008.57 L1011.44,1011.57 L1008.89,1014.55 L1006.31,1017.53 L1003.70,1020.50 L1001.07,1023.46 L998.40,1026.38 L995.68,1029.25 L992.90,1032.04 L990.03,1034.73 L987.08,1037.29 L984.02,1039.72 L980.85,1041.97 L977.55,1044.04 L974.13,1045.92 L970.60,1047.63 L966.99,1049.21 L963.33,1050.67 L959.63,1052.05 L955.89,1053.33 L952.13,1054.51 L948.35,1055.60 L944.55,1056.60 L940.73,1057.50 L936.91,1058.35 L933.07,1059.15 L929.23,1059.92 L925.39,1060.68 L921.54,1061.44 L917.69,1062.18 L913.84,1062.91 L909.99,1063.63 L906.13,1064.35 L902.27,1065.05 L898.41,1065.74 L894.54,1066.43 L890.68,1067.10 L886.81,1067.77 L882.94,1068.43 L879.07,1069.08 L875.19,1069.72 L871.32,1070.35 L867.44,1070.98 L863.56,1071.59 L859.68,1072.20 L855.80,1072.80 L851.92,1073.40 L848.04,1073.98 L844.15,1074.56 L840.27,1075.13 L836.38,1075.69 L832.49,1076.25 L828.61,1076.79 L824.72,1077.34 L820.83,1077.87 L816.94,1078.40 L813.05,1078.92 L809.16,1079.44 L805.27,1079.95 L801.38,1080.46 L797.49,1080.97 L793.60,1081.48 L789.71,1081.99 L785.82,1082.50 L781.93,1083.01 L778.04,1083.53 L774.15,1084.05 L770.27,1084.58 L766.38,1085.11 L762.49,1085.65 L758.61,1086.20 L754.72,1086.76 L750.84,1087.33 L746.96,1087.90 L743.07,1088.47 L739.19,1089.05 L735.31,1089.62 L731.42,1090.20 L727.54,1090.77 L723.65,1091.33 L719.77,1091.89 L715.88,1092.45 L712.00,1092.99 L708.11,1093.52 L704.22,1094.04 L700.32,1094.55 L696.43,1095.04 L692.54,1095.51 L688.64,1095.97 L684.74,1096.42 L680.84,1096.85 L676.94,1097.27 L673.03,1097.68 L669.13,1098.08 L665.23,1098.47 L661.32,1098.85 L657.41,1099.23 L653.50,1099.60 L649.60,1099.96 L645.69,1100.32 L641.78,1100.67 L637.87,1101.02 L633.96,1101.37 L630.05,1101.71 L626.14,1102.06 L622.23,1102.40 L618.32,1102.75 L614.41,1103.10 L610.50,1103.45 L606.59,1103.80 L602.68,1104.15 L598.77,1104.51 L594.86,1104.86 L590.95,1105.22 L587.04,1105.58 L583.14,1105.94 L579.23,1106.30 L575.32,1106.66 L571.41,1107.02 L567.51,1107.39 L563.60,1107.75 L559.69,1108.12 L555.78,1108.49 L551.88,1108.86 L547.97,1109.23 L544.06,1109.60 L540.15,1109.97 L536.25,1110.34 L532.34,1110.72 L528.43,1111.09 L524.53,1111.46 L520.62,1111.84 L516.71,1112.22 L512.81,1112.59 L508.90,1112.97 L504.99,1113.34 L501.09,1113.71 L497.18,1114.08 L493.27,1114.45 L489.36,1114.81 L485.46,1115.17 L481.55,1115.52 L477.64,1115.87 L473.73,1116.20 L469.82,1116.53 L465.90,1116.85 L461.99,1117.17 L458.08,1117.47 L454.17,1117.76 L450.25,1118.04 L446.33,1118.30 L442.42,1118.56 L438.50,1118.80" fill="none" stroke="#A80036" stroke-width="1"/>
<polygon points="1209.40,1030.30 1202.23,1029.52 1198.75,1035.83 1205.92,1036.62" fill="#A80036" stroke="#A80036" stroke-width="1"/>
<path d="M1198.75,1035.83 L1196.05,1038.64 L1193.08,1041.05 L1189.87,1043.11 L1186.49,1044.90 L1182.97,1046.48 L1179.37,1047.90 L1175.73,1049.22 L1172.07,1050.47 L1168.39,1051.65 L1164.69,1052.77 L1160.97,1053.83 L1157.24,1054.84 L1153.50,1055.80 L1149.74,1056.70 L1145.98,1057.57 L1142.20,1058.40 L1138.42,1059.20 L1134.63,1059.96 L1130.83,1060.70 L1127.03,1061.42 L1123.23,1062.12 L1119.42,1062.80 L1115.62,1063.47 L1111.81,1064.12 L1108.00,1064.76 L1104.18,1065.39 L1100.37,1066.00 L1096.55,1066.60 L1092.73,1067.19 L1088.92,1067.77 L1085.09,1068.34 L1081.27,1068.90 L1077.45,1069.44 L1073.62,1069.98 L1069.80,1070.51 L1065.97,1071.03 L1062.14,1071.54 L1058.31,1072.04 L1054.48,1072.54 L1050.65,1073.03 L1046.82,1073.51 L1042.99,1073.99 L1039.15,1074.47 L1035.32,1074.94 L1031.49,1075.40 L1027.65,1075.87 L1023.82,1076.33 L1019.98,1076.78 L1016.15,1077.24 L1012.31,1077.69 L1008.48,1078.13 L1004.64,1078.58 L1000.80,1079.02 L996.97,1079.45 L993.13,1079.89 L989.29,1080.32 L985.45,1080.75 L981.61,1081.17 L977.77,1081.59 L973.94,1082.01 L970.10,1082.43 L966.26,1082.84 L962.42,1083.25 L958.58,1083.66 L954.74,1084.07 L950.89,1084.47 L947.05,1084.87 L943.21,1085.26 L939.37,1085.66 L935.53,1086.05 L931.68,1086.44 L927.84,1086.82 L924.00,1087.20 L920.16,1087.58 L916.31,1087.96 L912.47,1088.34 L908.62,1088.71 L904.78,1089.08 L900.93,1089.44 L897.09,1089.81 L893.24,1090.17 L889.40,1090.53 L885.55,1090.89 L881.71,1091.24 L877.86,1091.59 L874.01,1091.94 L870.17,1092.29 L866.32,1092.64 L862.47,1092.98 L858.63,1093.32 L854.78,1093.66 L850.93,1093.99 L847.08,1094.33 L843.23,1094.66 L839.39,1094.98 L835.54,1095.31 L831.69,1095.64 L827.84,1095.96 L823.99,1096.28 L820.14,1096.60 L816.29,1096.91 L812.44,1097.23 L808.59,1097.54 L804.74,1097.85 L800.89,1098.15 L797.04,1098.46 L793.19,1098.76 L789.34,1099.07 L785.48,1099.37 L781.63,1099.66 L777.78,1099.96 L773.93,1100.25 L770.08,1100.55 L766.22,1100.84 L762.37,1101.12 L758.52,1101.41 L754.67,1101.70 L750.81,1101.98 L746.96,1102.26 L743.11,1102.54 L739.25,1102.82 L735.40,1103.09 L731.55,1103.37 L727.69,1103.64 L723.84,1103.91 L719.99,1104.18 L716.13,1104.45 L712.28,1104.72 L708.42,1104.98 L704.57,1105.25 L700.72,1105.51 L696.86,1105.77 L693.01,1106.03 L689.15,1106.29 L685.30,1106.54 L681.44,1106.80 L677.59,1107.05 L673.73,1107.31 L669.88,1107.56 L666.02,1107.81 L662.16,1108.06 L658.31,1108.30 L654.45,1108.55 L650.60,1108.79 L646.74,1109.04 L642.89,1109.28 L639.03,1109.52 L635.17,1109.76 L631.32,1110.00 L627.46,1110.24 L623.61,1110.48 L619.75,1110.71 L615.89,1110.95 L612.04,1111.18 L608.18,1111.41 L604.32,1111.65 L600.47,1111.88 L596.61,1112.11 L592.75,1112.34 L588.90,1112.56 L585.04,1112.79 L581.18,1113.02 L577.33,1113.24 L573.47,1113.47 L569.61,1113.69 L565.76,1113.92 L561.90,1114.14 L558.04,1114.36 L554.19,1114.58 L550.33,1114.80 L546.47,1115.02 L542.62,1115.24 L538.76,1115.46 L534.90,1115.68 L531.05,1115.90 L527.19,1116.11 L523.33,1116.33 L519.48,1116.55 L515.62,1116.76 L511.76,1116.98 L507.91,1117.19 L504.05,1117.40 L500.20,1117.62 L496.34,1117.83 L492.48,1118.04 L488.63,1118.26 L484.77,1118.47 L480.91,1118.68 L477.06,1118.89 L473.20,1119.10 L469.35,1119.32 L465.49,1119.53 L461.63,1119.74 L457.78,1119.95 L453.92,1120.16 L450.07,1120.37 L446.21,1120.58 L442.36,1120.79 L438.50,1121.00" fill="none" stroke="#A80036" stroke-width="1"/>
<polygon points="1564.90,950.50 1559.47,955.25 1561.76,962.08 1567.19,957.34" fill="#A80036" stroke="#A80036" stroke-width="1"/>
<path d="M1561.76,962.08 L1559.04,967.31 L1556.19,972.45 L1553.24,977.51 L1550.17,982.49 L1546.98,987.40 L1543.68,992.23 L1540.27,996.99 L1536.74,1001.68 L1533.10,1006.31 L1529.35,1010.87 L1525.48,1015.36 L1521.49,1019.76 L1517.37,1024.03 L1513.12,1028.15 L1508.74,1032.09 L1504.21,1035.83 L1499.54,1039.35 L1494.71,1042.62 L1489.73,1045.61 L1484.60,1048.32 L1479.33,1050.76 L1473.94,1052.94 L1468.44,1054.89 L1462.86,1056.67 L1457.21,1058.29 L1451.52,1059.77 L1445.79,1061.15 L1440.03,1062.44 L1434.25,1063.65 L1428.46,1064.80 L1422.66,1065.91 L1416.86,1067.00 L1411.06,1068.05 L1405.26,1069.07 L1399.46,1070.06 L1393.66,1071.03 L1387.86,1071.97 L1382.06,1072.89 L1376.25,1073.78 L1370.45,1074.65 L1364.64,1075.50 L1358.83,1076.33 L1353.02,1077.15 L1347.21,1077.94 L1341.39,1078.72 L1335.58,1079.49 L1329.76,1080.24 L1323.94,1080.98 L1318.12,1081.70 L1312.29,1082.41 L1306.46,1083.10 L1300.64,1083.78 L1294.81,1084.44 L1288.98,1085.10 L1283.14,1085.74 L1277.31,1086.36 L1271.47,1086.98 L1265.63,1087.58 L1259.79,1088.17 L1253.95,1088.75 L1248.11,1089.32 L1242.27,1089.87 L1236.42,1090.42 L1230.58,1090.95 L1224.73,1091.48 L1218.88,1091.99 L1213.03,1092.49 L1207.18,1092.98 L1201.33,1093.47 L1195.47,1093.94 L1189.62,1094.41 L1183.76,1094.86 L1177.91,1095.31 L1172.05,1095.75 L1166.19,1096.18 L1160.33,1096.60 L1154.47,1097.02 L1148.61,1097.43 L1142.75,1097.83 L1136.89,1098.22 L1131.03,1098.61 L1125.16,1098.99 L1119.30,1099.37 L1113.44,1099.74 L1107.57,1100.10 L1101.71,1100.46 L1095.84,1100.81 L1089.98,1101.16 L1084.11,1101.50 L1078.24,1101.84 L1072.38,1102.17 L1066.51,1102.50 L1060.64,1102.83 L1054.77,1103.15 L1048.91,1103.47 L1043.04,1103.79 L1037.17,1104.10 L1031.30,1104.41 L1025.44,1104.72 L1019.57,1105.03 L1013.70,1105.33 L1007.83,1105.64 L1001.97,1105.93 L996.10,1106.23 L990.23,1106.53 L984.37,1106.82 L978.50,1107.11 L972.63,1107.39 L966.76,1107.68 L960.90,1107.96 L955.03,1108.24 L949.16,1108.52 L943.30,1108.79 L937.43,1109.07 L931.56,1109.34 L925.69,1109.61 L919.83,1109.87 L913.96,1110.14 L908.09,1110.40 L902.23,1110.66 L896.36,1110.91 L890.49,1111.17 L884.62,1111.42 L878.76,1111.67 L872.89,1111.92 L867.02,1112.16 L861.15,1112.41 L855.29,1112.65 L849.42,1112.89 L843.55,1113.12 L837.68,1113.36 L831.82,1113.59 L825.95,1113.82 L820.08,1114.05 L814.21,1114.27 L808.35,1114.50 L802.48,1114.72 L796.61,1114.94 L790.74,1115.15 L784.88,1115.37 L779.01,1115.58 L773.14,1115.79 L767.27,1116.00 L761.40,1116.20 L755.54,1116.41 L749.67,1116.61 L743.80,1116.81 L737.93,1117.01 L732.06,1117.20 L726.19,1117.40 L720.33,1117.59 L714.46,1117.78 L708.59,1117.97 L702.72,1118.15 L696.85,1118.33 L690.98,1118.52 L685.11,1118.70 L679.24,1118.87 L673.37,1119.05 L667.50,1119.22 L661.64,1119.39 L655.77,1119.56 L649.90,1119.73 L644.03,1119.89 L638.16,1120.06 L632.29,1120.22 L626.42,1120.38 L620.55,1120.54 L614.68,1120.69 L608.81,1120.85 L602.93,1121.00 L597.06,1121.15 L591.19,1121.30 L585.32,1121.44 L579.45,1121.59 L573.58,1121.73 L567.71,1121.87 L561.84,1122.01 L555.97,1122.14 L550.09,1122.28 L544.22,1122.41 L538.35,1122.54 L532.48,1122.67 L526.60,1122.80 L520.73,1122.93 L514.86,1123.05 L508.99,1123.17 L503.11,1123.29 L497.24,1123.41 L491.37,1123.53 L485.49,1123.64 L479.62,1123.76 L473.75,1123.87 L467.87,1123.98 L462.00,1124.09 L456.12,1124.19 L450.25,1124.30 L444.37,1124.40 L438.50,1124.50" fill="none" stroke="#A80036" stroke-width="1"/>
<path d="M96.5,311.5 L83.4,1095.5" fill="none" stroke="#A80036" stroke-width="1" stroke-dasharray="7,7"/>
<polygon points="83.40,1101.50 78.99,1091.46 83.45,1095.50 87.99,1091.54" fill="#A80036" stroke="#A80036" stroke-width="1"/>
<text x="93.20" y="794.70" font-size="13" textLength="98.20" lengthAdjust="spacingAndGlyphs">explicit relation</text>
<path d="M76.30,1149.50 L76.05,1150.42 L75.79,1151.33 L75.54,1152.25 L75.29,1153.17 L75.04,1154.09 L74.78,1155.00 L74.53,1155.92 L74.28,1156.84 L74.02,1157.76 L73.77,1158.67 L73.52,1159.59 L73.27,1160.51 L73.01,1161.43 L72.76,1162.34 L72.51,1163.26 L72.26,1164.18 L72.01,1165.10 L71.75,1166.01 L71.50,1166.93 L71.25,1167.85 L71.00,1168.77 L70.74,1169.68 L70.49,1170.60 L70.24,1171.52 L69.99,1172.44 L69.74,1173.35 L69.48,1174.27 L69.23,1175.19 L68.98,1176.11 L68.73,1177.02 L68.48,1177.94 L68.22,1178.86 L67.97,1179.78 L67.72,1180.70 L67.47,1181.61 L67.22,1182.53 L66.96,1183.45 L66.71,1184.37 L66.46,1185.28 L66.21,1186.20 L65.96,1187.12 L65.70,1188.04 L65.45,1188.95 L65.20,1189.87 L64.95,1190.79 L64.69,1191.71 L64.44,1192.63 L64.19,1193.54 L63.94,1194.46 L63.69,1195.38 L63.43,1196.30 L63.18,1197.21 L62.93,1198.13 L62.68,1199.05 L62.42,1199.97 L62.17,1200.88 L61.92,1201.80 L61.66,1202.72 L61.41,1203.64 L61.16,1204.56 L60.91,1205.47 L60.65,1206.39 L60.40,1207.31 L60.15,1208.23 L59.89,1209.14 L59.64,1210.06 L59.39,1210.98 L59.13,1211.90 L58.88,1212.81 L58.62,1213.73 L58.37,1214.65 L58.12,1215.56 L57.86,1216.48 L57.61,1217.40 L57.35,1218.32 L57.10,1219.23 L56.85,1220.15 L56.59,1221.07 L56.34,1221.99 L56.08,1222.90 L55.83,1223.82 L55.57,1224.74 L55.32,1225.65 L55.06,1226.57 L54.81,1227.49 L54.55,1228.40 L54.29,1229.32 L54.04,1230.24 L53.78,1231.15 L53.53,1232.07 L53.27,1232.99 L53.01,1233.91 L52.76,1234.82 L52.50,1235.74 L52.24,1236.65 L51.99,1237.57 L51.73,1238.49 L51.47,1239.40 L51.22,1240.32 L50.96,1241.24 L50.70,1242.15 L50.44,1243.07 L50.19,1243.99 L49.93,1244.90 L49.67,1245.82 L49.41,1246.73 L49.15,1247.65 L48.89,1248.57 L48.63,1249.48 L48.37,1250.40 L48.12,1251.31 L47.86,1252.23 L47.60,1253.15 L47.34,1254.06 L47.08,1254.98 L46.82,1255.89 L46.56,1256.81 L46.29,1257.72 L46.03,1258.64 L45.77,1259.55 L45.51,1260.47 L45.25,1261.38 L44.99,1262.30 L44.73,1263.21 L44.46,1264.13 L44.20,1265.04 L43.94,1265.96 L43.68,1266.87 L43.41,1267.79 L43.15,1268.70 L42.89,1269.62 L42.62,1270.53 L42.36,1271.45 L42.09,1272.36 L41.83,1273.27 L41.56,1274.19 L41.30,1275.10 L41.03,1276.02 L40.77,1276.93 L40.50,1277.84 L40.24,1278.76 L39.97,1279.67 L39.70,1280.59 L39.44,1281.50 L39.17,1282.41 L38.90,1283.33 L38.64,1284.24 L38.37,1285.15 L38.10,1286.07 L37.83,1286.98 L37.56,1287.89 L37.29,1288.80 L37.03,1289.72 L36.76,1290.63 L36.49,1291.54 L36.22,1292.46 L35.95,1293.37 L35.68,1294.28 L35.40,1295.19 L35.13,1296.10 L34.86,1297.02 L34.59,1297.93 L34.32,1298.84 L34.05,1299.75 L33.77,1300.66 L33.50,1301.58 L33.23,1302.49 L32.95,1303.40 L32.68,1304.31 L32.40,1305.22 L32.13,1306.13 L31.85,1307.04 L31.58,1307.95 L31.30,1308.87 L31.03,1309.78 L30.75,1310.69 L30.47,1311.60 L30.20,1312.51 L29.92,1313.42 L29.64,1314.33 L29.37,1315.24 L29.09,1316.15 L28.81,1317.06 L28.53,1317.97 L28.25,1318.88 L27.97,1319.79 L27.69,1320.70 L27.41,1321.61 L27.13,1322.51 L26.85,1323.42 L26.57,1324.33 L26.28,1325.24 L26.00,1326.15 L25.72,1327.06 L25.44,1327.97 L25.15,1328.88 L24.87,1329.78 L24.58,1330.69 L24.30,1331.60" fill="none" stroke="#A80036" stroke-width="1" stroke-dasharray="7,7"/>
<path d="M24.30,1331.60 L24.35,1332.38 L24.39,1333.15 L24.44,1333.93 L24.49,1334.71 L24.54,1335.49 L24.59,1336.26 L24.64,1337.04 L24.70,1337.82 L24.75,1338.59 L24.80,1339.37 L24.86,1340.15 L24.91,1340.92 L24.97,1341.70 L25.02,1342.48 L25.08,1343.25 L25.14,1344.03 L25.20,1344.81 L25.26,1345.58 L25.32,1346.36 L25.38,1347.13 L25.44,1347.91 L25.50,1348.69 L25.57,1349.46 L25.63,1350.24 L25.69,1351.02 L25.76,1351.79 L25.82,1352.57 L25.89,1353.34 L25.96,1354.12 L26.02,1354.90 L26.09,1355.67 L26.16,1356.45 L26.23,1357.22 L26.30,1358.00 L26.37,1358.77 L26.44,1359.55 L26.51,1360.33 L26.58,1361.10 L26.66,1361.88 L26.73,1362.65 L26.80,1363.43 L26.88,1364.20 L26.95,1364.98 L27.02,1365.76 L27.10,1366.53 L27.18,1367.31 L27.25,1368.08 L27.33,1368.86 L27.41,1369.63 L27.48,1370.41 L27.56,1371.18 L27.64,1371.96 L27.72,1372.73 L27.80,1373.51 L27.88,1374.29 L27.96,1375.06 L28.04,1375.84 L28.12,1376.61 L28.20,1377.39 L28.28,1378.16 L28.36,1378.94 L28.44,1379.71 L28.53,1380.49 L28.61,1381.26 L28.69,1382.04 L28.78,1382.81 L28.86,1383.59 L28.94,1384.36 L29.03,1385.14 L29.11,1385.91 L29.20,1386.69 L29.28,1387.46 L29.37,1388.24 L29.45,1389.01 L29.54,1389.79 L29.62,1390.56 L29.71,1391.34 L29.80,1392.11 L29.88,1392.89 L29.97,1393.66 L30.06,1394.44 L30.14,1395.21 L30.23,1395.99 L30.32,1396.76 L30.41,1397.54 L30.49,1398.31 L30.58,1399.09 L30.67,1399.86 L30.76,1400.64 L30.85,1401.41 L30.93,1402.19 L31.02,1402.96 L31.11,1403.74 L31.20,1404.51 L31.29,1405.29 L31.38,1406.06 L31.47,1406.84 L31.55,1407.61 L31.64,1408.39 L31.73,1409.16 L31.82,1409.94 L31.91,1410.71 L32.00,1411.49 L32.09,1412.26 L32.18,1413.04 L32.27,1413.81 L32.35,1414.59 L32.44,1415.36 L32.53,1416.14 L32.62,1416.91 L32.71,1417.69 L32.80,1418.46 L32.89,1419.24 L32.97,1420.01 L33.06,1420.79 L33.15,1421.56 L33.24,1422.34 L33.33,1423.11 L33.41,1423.89 L33.50,1424.66 L33.59,1425.44 L33.68,1426.21 L33.76,1426.99 L33.85,1427.76 L33.94,1428.54 L34.02,1429.31 L34.11,1430.09 L34.20,1430.87 L34.28,1431.64 L34.37,1432.42 L34.46,1433.19 L34.54,1433.97 L34.63,1434.74 L34.71,1435.52 L34.80,1436.29 L34.88,1437.07 L34.96,1437.84 L35.05,1438.62 L35.13,1439.40 L35.21,1440.17 L35.30,1440.95 L35.38,1441.72 L35.46,1442.50 L35.54,1443.27 L35.63,1444.05 L35.71,1444.83 L35.79,1445.60 L35.87,1446.38 L35.95,1447.15 L36.03,1447.93 L36.11,1448.70 L36.19,1449.48 L36.27,1450.26 L36.34,1451.03 L36.42,1451.81 L36.50,1452.59 L36.58,1453.36 L36.65,1454.14 L36.73,1454.91 L36.80,1455.69 L36.88,1456.47 L36.95,1457.24 L37.03,1458.02 L37.10,1458.80 L37.17,1459.57 L37.25,1460.35 L37.32,1461.13 L37.39,1461.90 L37.46,1462.68 L37.53,1463.45 L37.60,1464.23 L37.67,1465.01 L37.74,1465.79 L37.81,1466.56 L37.87,1467.34 L37.94,1468.12 L38.01,1468.89 L38.07,1469.67 L38.14,1470.45 L38.20,1471.22 L38.27,1472.00 L38.33,1472.78 L38.39,1473.56 L38.46,1474.33 L38.52,1475.11 L38.58,1475.89 L38.64,1476.67 L38.70,1477.44 L38.75,1478.22 L38.81,1479.00 L38.87,1479.78 L38.93,1480.55 L38.98,1481.33 L39.04,1482.11 L39.09,1482.89 L39.14,1483.67 L39.20,1484.44 L39.25,1485.22 L39.30,1486.00" fill="none" stroke="#A80036" stroke-width="1" stroke-dasharray="7,7"/>
<polygon points="39.50,1492.40 34.43,1482.68 39.15,1486.41 43.42,1482.16" fill="#A80036" stroke="#A80036" stroke-width="1"/>
<text x="58.10" y="1230.80" font-size="13" textLength="93.50" lengthAdjust="spacingAndGlyphs">named relation</text>
<path d="M24.3,1331.6 L61.4,1331.6" fill="none" stroke="#A80036" stroke-width="1" stroke-dasharray="7,7"/>
<circle cx="24.3" cy="1331.6" r="2" fill="#000000"/>
</svg></body></html>
